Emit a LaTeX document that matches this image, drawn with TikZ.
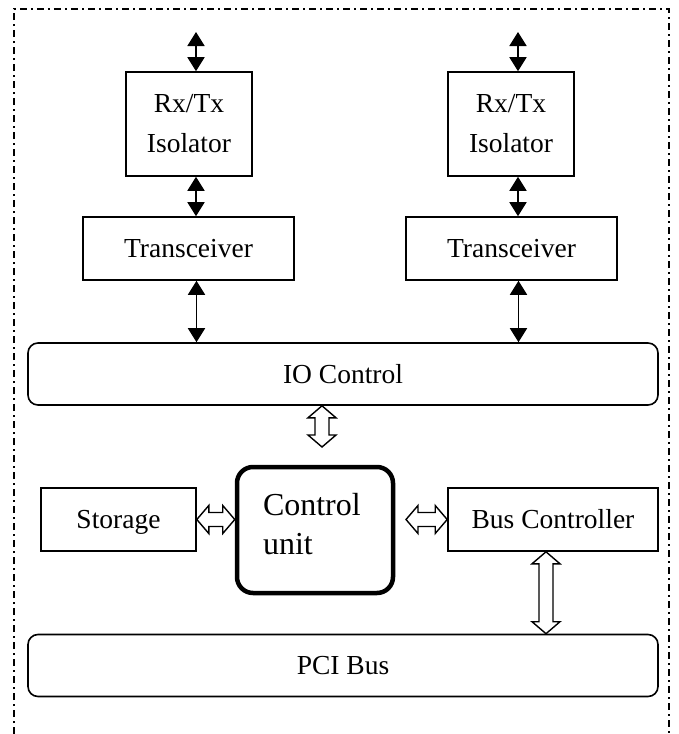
\documentclass[tikz,border=0pt]{standalone}
\usepackage{fontspec}
\setmainfont{Liberation Serif}
\usetikzlibrary{arrows.meta,calc}

\tikzset{
  box/.style={draw, line width=1.6pt, inner sep=0pt,
    font=\fontsize{27.5}{40}\selectfont},
  bar/.style={box, rounded corners=10pt, minimum width=630pt, minimum height=62pt},
  cubox/.style={draw, line width=4.5pt, rounded corners=16pt, inner xsep=26pt,
    inner ysep=0pt, text width=104pt, align=left, minimum height=126pt,
    font=\fontsize{32}{39}\selectfont},
  link/.style={line width=1.8pt,
    {Triangle[width=17pt,length=14pt]}-{Triangle[width=17pt,length=14pt]}},
  hollow/.style={line width=1.4pt, to path={
    -- ($(\tikztostart)!12pt!(\tikztotarget)!14pt!90:(\tikztotarget)$)
    -- ($(\tikztostart)!12pt!(\tikztotarget)!7pt!90:(\tikztotarget)$)
    -- ($(\tikztotarget)!12pt!(\tikztostart)!7pt!-90:(\tikztostart)$)
    -- ($(\tikztotarget)!12pt!(\tikztostart)!14pt!-90:(\tikztostart)$)
    -- (\tikztotarget)
    -- ($(\tikztotarget)!12pt!(\tikztostart)!14pt!90:(\tikztostart)$)
    -- ($(\tikztotarget)!12pt!(\tikztostart)!7pt!90:(\tikztostart)$)
    -- ($(\tikztostart)!12pt!(\tikztotarget)!7pt!-90:(\tikztotarget)$)
    -- ($(\tikztostart)!12pt!(\tikztotarget)!14pt!-90:(\tikztotarget)$)
    -- cycle}}
}

\begin{document}
\begin{tikzpicture}[x=1pt, y=-1pt]
  \useasboundingbox (0,0) rectangle (678,734);
  \draw[line width=1.6pt, dash pattern=on 7pt off 4pt on 2pt off 4pt]
    (14,734) -- (14,9) -- (669,9) -- (669,734);

  \coordinate (inL) at (196,32);
  \coordinate (inR) at (518,32);
  \coordinate (ioCU) at (322,447);
  \coordinate (cuBC) at (406,519.5);

  \node[box, minimum width=126pt, minimum height=104pt, align=center] (isoL) at (189,124) {Rx/Tx\\Isolator};
  \node[box, minimum width=126pt, minimum height=104pt, align=center] (isoR) at (511,124) {Rx/Tx\\Isolator};
  \node[box, minimum width=211pt, minimum height=63pt] (trL) at (188.5,248.5) {Transceiver};
  \node[box, minimum width=211pt, minimum height=63pt] (trR) at (511.5,248.5) {Transceiver};
  \node[bar] (io) at (343,374) {IO Control};
  \node[box, minimum width=155pt, minimum height=63pt, text depth=0pt] (sto) at (118.5,519.5) {Storage};
  \node[cubox] (cu) at (315,530) {Control\\unit\strut};
  \node[box, minimum width=210pt, minimum height=63pt] (bc) at (553,519.5) {Bus Controller};
  \node[bar] (pci) at (343,665.5) {PCI Bus};

  \draw[link] (inL) -- ([xshift=7pt]isoL.north);
  \draw[link] ([xshift=7pt]isoL.south) -- ([xshift=7pt]isoL.south |- trL.north);
  \draw[link] ([xshift=8pt]trL.south) -- ([xshift=8pt]trL.south |- io.north);
  \draw[link] (inR) -- ([xshift=7pt]isoR.north);
  \draw[link] ([xshift=7pt]isoR.south) -- ([xshift=7pt]isoR.south |- trR.north);
  \draw[link] ([xshift=7pt]trR.south) -- ([xshift=7pt]trR.south |- io.north);

  \draw[hollow] (ioCU |- io.south) to (ioCU);
  \draw[hollow] (sto.east) to (sto.east -| cu.west);
  \draw[hollow] (cuBC) to (cuBC -| bc.west);
  \draw[hollow] ([xshift=-7pt]bc.south) to ([xshift=-7pt]bc.south |- pci.north);
\end{tikzpicture}
\end{document}
